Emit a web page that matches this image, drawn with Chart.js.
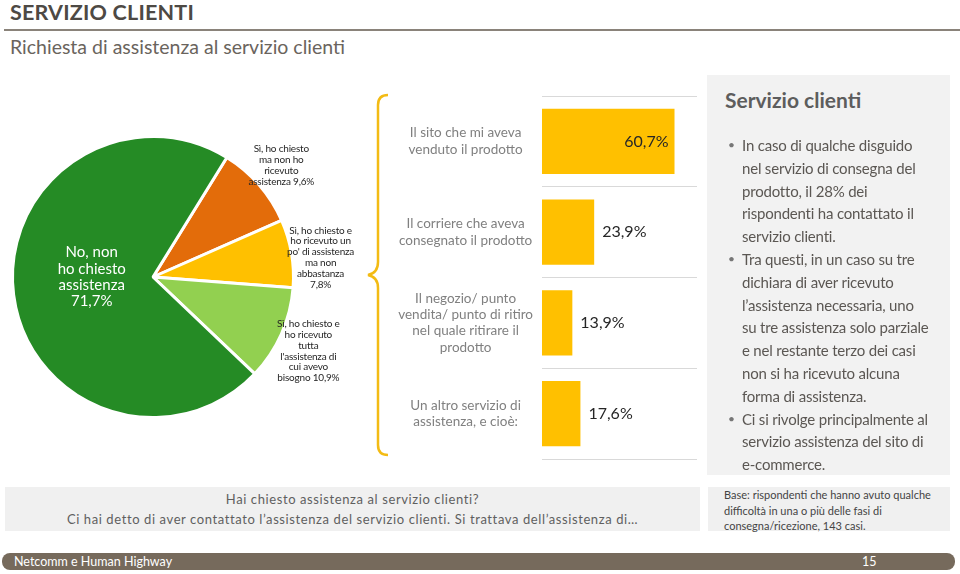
<!DOCTYPE html>
<html lang="it">
<head>
  <meta charset="UTF-8">
  <title>Servizio clienti</title>
  <script src="https://cdn.jsdelivr.net/npm/chart.js"></script>
  <style>
    body { margin: 0; width: 960px; height: 574px; position: relative; background: #fff; font-family: Lato, "Open Sans", sans-serif; overflow: hidden; }
    .abs { position: absolute; }
    #title { left: 10px; top: -1px; font-size: 21.5px; font-weight: bold; color: #4d4944; letter-spacing: 0.2px; }
    #rule { left: 4px; top: 29px; width: 956px; height: 2px; background: #8a837a; }
    #subtitle { left: 10px; top: 35px; font-size: 19.5px; color: #6a645d; }
    #panel { left: 707px; top: 75px; width: 243px; height: 400px; background: #f2f2f2; }
    #panel h2 { margin: 0; position: absolute; left: 18px; top: 12px; font-size: 21px; font-weight: bold; color: #5d5d5d; }
    #panel ul { position: absolute; left: 0; top: 59px; margin: 0; padding: 0 0 0 35px; list-style: none; font-size: 15px; line-height: 22.8px; color: #5b5753; letter-spacing: -0.2px; }
    #panel li { position: relative; white-space: pre; }
    #panel li::before { content: "•"; position: absolute; left: -14px; font-size: 12px; color: #777; }
    #question { left: 5px; top: 487px; width: 695px; height: 44px; background: #f0f0f0; text-align: center; font-size: 13px; line-height: 20px; color: #5f5f5f; letter-spacing: 0.6px; padding-top: 2px; box-sizing: border-box; }
    #base { left: 708px; top: 487px; width: 242px; height: 44px; background: #f0f0f0; font-size: 11px; line-height: 15.5px; color: #444; padding: 0 0 0 16px; box-sizing: border-box; }
    #footer { left: 2px; top: 553px; width: 953px; height: 17px; background: #766a5c; border-radius: 8px; color: #fff; font-size: 12.5px; line-height: 17px; }
  </style>
</head>
<body>
  <div id="title" class="abs">SERVIZIO CLIENTI</div>
  <div id="rule" class="abs"></div>
  <div id="subtitle" class="abs">Richiesta di assistenza al servizio clienti</div>

  <canvas id="pieChart" class="abs" style="left:0; top:120px;" width="380" height="320"></canvas>

  <svg class="abs" style="left:360px; top:90px;" width="40" height="372">
    <path d="M28 5 Q18 5 18 15 L18 172 Q18 183 8 185 Q18 187 18 198 L18 355 Q18 365 28 365"
          fill="none" stroke="#f3bb14" stroke-width="2.5"/>
  </svg>

  <canvas id="barChart" class="abs" style="left:390px; top:80px;" width="320" height="395"></canvas>

  <div id="panel" class="abs">
    <h2>Servizio clienti</h2>
    <ul>
      <li>In caso di qualche disguido
nel servizio di consegna del
prodotto, il 28% dei
rispondenti ha contattato il
servizio clienti.</li>
      <li>Tra questi, in un caso su tre
dichiara di aver ricevuto
l’assistenza necessaria, uno
su tre assistenza solo parziale
e nel restante terzo dei casi
non si ha ricevuto alcuna
forma di assistenza.</li>
      <li>Ci si rivolge principalmente al
servizio assistenza del sito di
e-commerce.</li>
    </ul>
  </div>

  <div id="question" class="abs">Hai chiesto assistenza al servizio clienti?<br>Ci hai detto di aver contattato l’assistenza del servizio clienti. Si trattava dell’assistenza di…</div>
  <div id="base" class="abs">Base: rispondenti che hanno avuto qualche<br>difficoltà in una o più delle fasi di<br>consegna/ricezione, 143 casi.</div>

  <div id="footer" class="abs">
    <span style="position:absolute; left:12px;">Netcomm e Human Highway</span>
    <span style="position:absolute; left:860px;">15</span>
  </div>

  <script>
    // pie: answers to "Hai chiesto assistenza al servizio clienti?"
    const pieLabels = [
      ['Sì, ho chiesto', 'ma non ho', 'ricevuto', 'assistenza'],
      ['Sì, ho chiesto e', 'ho ricevuto un', "po' di assistenza", 'ma non', 'abbastanza', ''],
      ['Sì, ho chiesto e', 'ho ricevuto', 'tutta', "l'assistenza di", 'cui avevo', 'bisogno'],
      ['No, non', 'ho chiesto', 'assistenza', '']
    ];
    const pieValues = [9.6, 7.8, 10.9, 71.7];
    const pieColors = ['#e36c0a', '#ffc000', '#92d050', '#258b25'];

    // bar: which service was contacted
    const barCategories = [
      ['Il sito che mi aveva', 'venduto il prodotto'],
      ['Il corriere che aveva', 'consegnato il prodotto'],
      ['Il negozio/ punto', 'vendita/ punto di ritiro', 'nel quale ritirare il', 'prodotto'],
      ['Un altro servizio di', 'assistenza, e cioè:']
    ];
    const barValues = [60.7, 23.9, 13.9, 17.6];

    const pct = v => v.toFixed(1).replace('.', ',') + '%';

    // text labels next to / inside the pie slices
    const labelShiftY = [0, 9, 5, -8];
    const pieLabelPlugin = {
      id: 'pieLabels',
      afterDatasetsDraw(chart) {
        const ctx = chart.ctx;
        const arcs = chart.getDatasetMeta(0).data;
        arcs.forEach((arc, i) => {
          const lines = pieLabels[i].slice();
          const last = lines.pop();
          lines.push((last ? last + ' ' : '') + pct(pieValues[i]));
          const inside = i === 3;
          const mid = (arc.startAngle + arc.endAngle) / 2;
          const r = arc.outerRadius * (inside ? 0.44 : 1.21);
          const cx = arc.x + Math.cos(mid) * r;
          const cy = arc.y + Math.sin(mid) * r + labelShiftY[i];
          const size = inside ? 15 : 10;
          const lh = inside ? 16.3 : 10.8;
          ctx.save();
          ctx.font = size + 'px Lato, sans-serif';
          ctx.letterSpacing = inside ? '0px' : '-0.2px';
          ctx.fillStyle = inside ? '#ffffff' : '#262626';
          ctx.textAlign = 'center';
          ctx.textBaseline = 'middle';
          const y0 = cy - (lines.length - 1) * lh / 2;
          lines.forEach((t, k) => ctx.fillText(t, cx, y0 + k * lh));
          ctx.restore();
        });
      }
    };

    new Chart(document.getElementById('pieChart'), {
      type: 'pie',
      data: {
        labels: pieLabels.map(l => l.join(' ')),
        datasets: [{
          data: pieValues,
          backgroundColor: pieColors,
          borderColor: '#ffffff',
          borderWidth: 3
        }]
      },
      options: {
        responsive: false,
        animation: false,
        rotation: 31.7,
        layout: { padding: { left: 11, right: 85, top: 15, bottom: 21 } },
        plugins: { legend: { display: false }, tooltip: { enabled: false } }
      },
      plugins: [pieLabelPlugin]
    });

    // value labels on the bars
    const barValuePlugin = {
      id: 'barValues',
      afterDatasetsDraw(chart) {
        const ctx = chart.ctx;
        chart.getDatasetMeta(0).data.forEach((bar, i) => {
          const inside = i === 0;
          ctx.save();
          ctx.font = '16px Lato, sans-serif';
          ctx.fillStyle = '#262626';
          ctx.textBaseline = 'middle';
          ctx.textAlign = inside ? 'right' : 'left';
          ctx.fillText(pct(barValues[i]), inside ? bar.x - 6 : bar.x + 8, bar.y);
          ctx.restore();
        });
      }
    };

    new Chart(document.getElementById('barChart'), {
      type: 'bar',
      data: {
        labels: barCategories,
        datasets: [{
          data: barValues,
          backgroundColor: '#ffc000',
          categoryPercentage: 1,
          barPercentage: 0.72
        }]
      },
      options: {
        indexAxis: 'y',
        responsive: false,
        animation: false,
        layout: { padding: { left: 0, right: 13, top: 16, bottom: 16 } },
        scales: {
          x: { display: false, min: 0, max: 71 },
          y: {
            afterFit: scale => {
              scale.width = 152;
              scale.paddingTop = 0;
              scale.paddingBottom = 0;
            },
            border: { display: false },
            grid: { color: '#d9d9d9', drawTicks: false, offset: true },
            ticks: {
              crossAlign: 'center',
              padding: 9,
              color: '#808080',
              font: { family: 'Lato, sans-serif', size: 13.5, lineHeight: 1.22 }
            }
          }
        },
        plugins: { legend: { display: false }, tooltip: { enabled: false } }
      },
      plugins: [barValuePlugin]
    });
  </script>
</body>
</html>
